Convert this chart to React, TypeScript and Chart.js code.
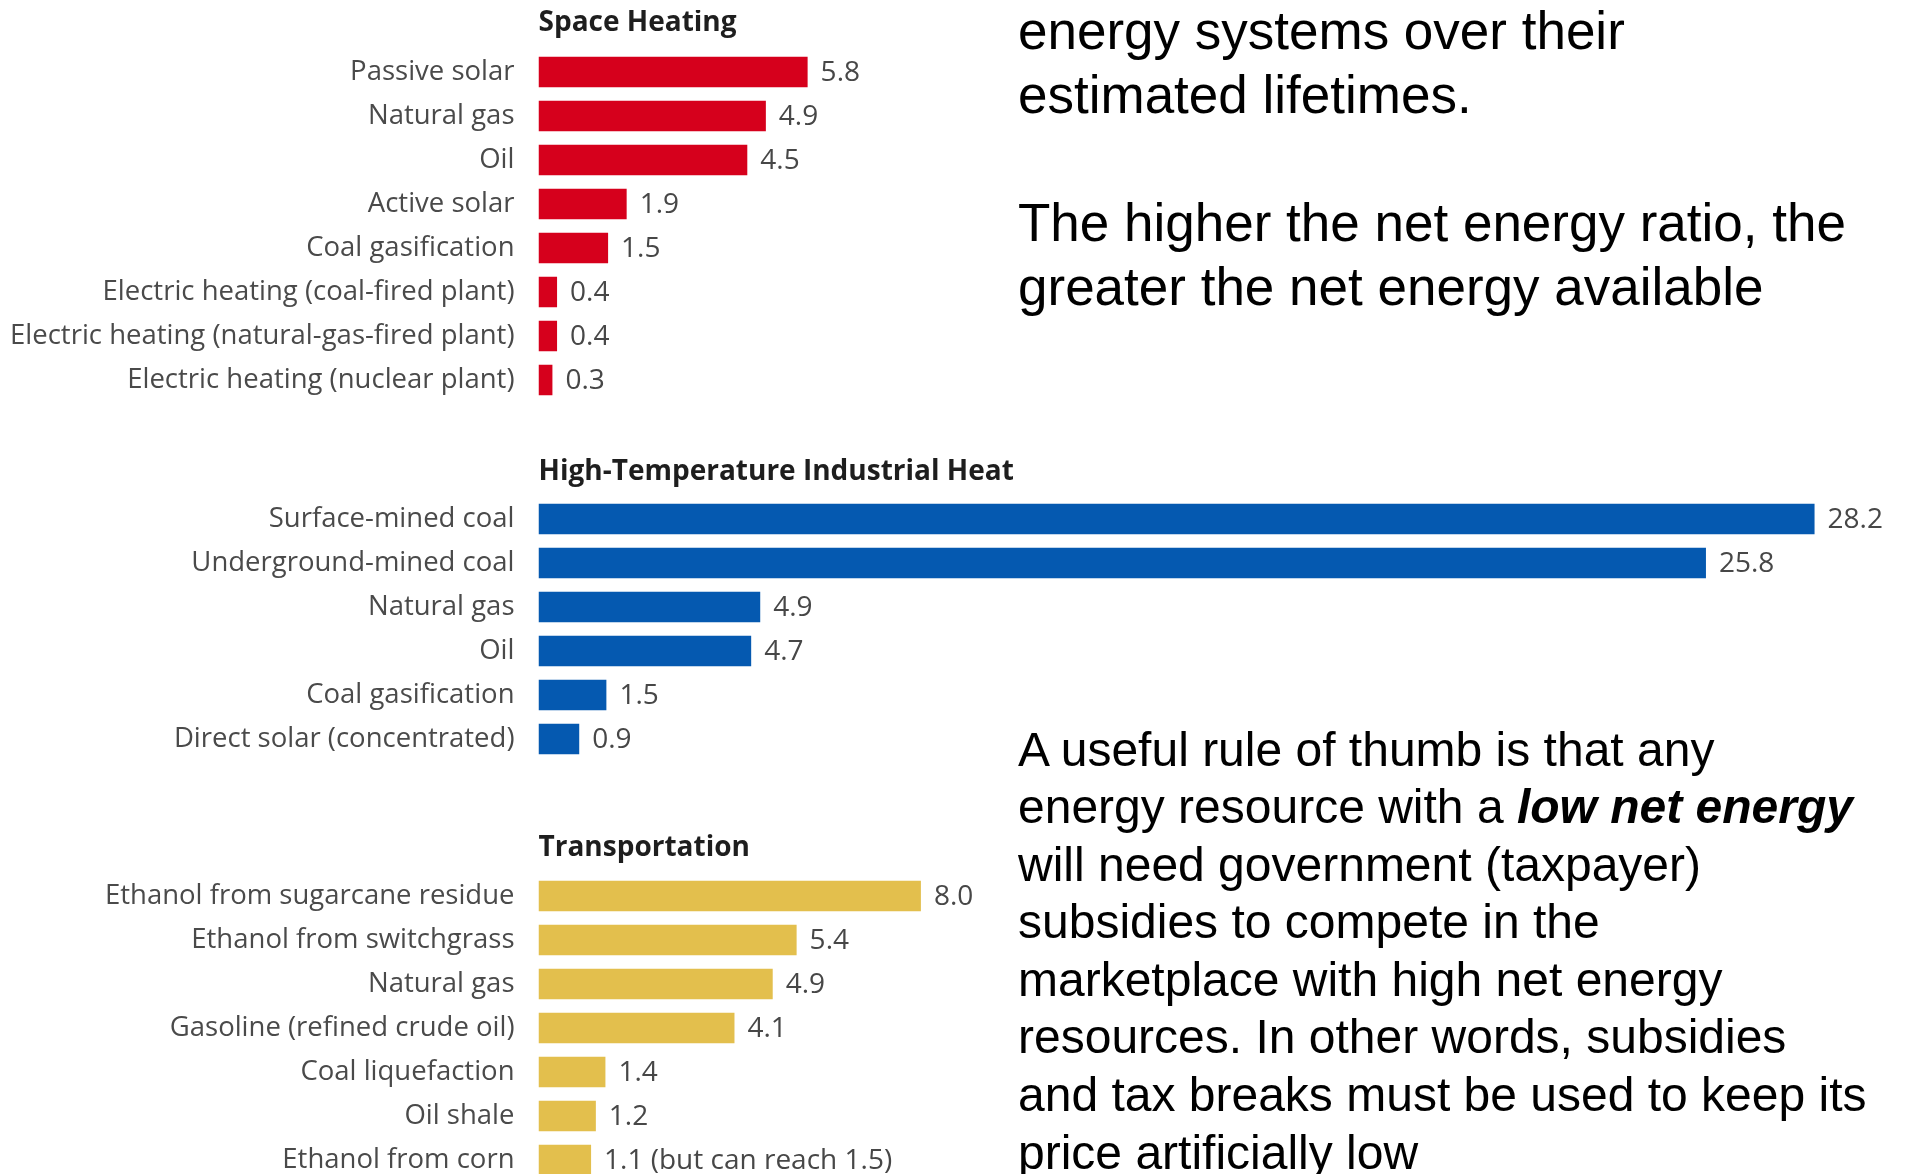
import React, { useEffect, useRef } from 'react';
import { Chart, registerables } from 'chart.js';

Chart.register(...registerables);

// ---------- data ----------
const spaceHeatingLabels = [
  'Passive solar',
  'Natural gas',
  'Oil',
  'Active solar',
  'Coal gasification',
  'Electric heating (coal-fired plant)',
  'Electric heating (natural-gas-fired plant)',
  'Electric heating (nuclear plant)',
];
const spaceHeatingValues = [5.8, 4.9, 4.5, 1.9, 1.5, 0.4, 0.4, 0.3];

const industrialHeatLabels = [
  'Surface-mined coal',
  'Underground-mined coal',
  'Natural gas',
  'Oil',
  'Coal gasification',
  'Direct solar (concentrated)',
];
const industrialHeatValues = [28.2, 25.8, 4.9, 4.7, 1.5, 0.9];

const transportationLabels = [
  'Ethanol from sugarcane residue',
  'Ethanol from switchgrass',
  'Natural gas',
  'Gasoline (refined crude oil)',
  'Coal liquefaction',
  'Oil shale',
  'Ethanol from corn',
];
const transportationValues = [8.0, 5.4, 4.9, 4.1, 1.4, 1.2, 1.1];
const transportationNotes = ['', '', '', '', '', '', '(but can reach 1.5)'];

const panelTitles = ['Space Heating', 'High-Temperature Industrial Heat', 'Transportation'];

const introLines = [
  'energy systems over their',
  'estimated lifetimes.',
  '',
  'The higher the net energy ratio, the',
  'greater the net energy available',
];

// ---------- layout constants ----------
const PAGE_W = 1914;
const AXIS_W = 538.5;
const ROW_H = 44;
const TITLE_SPACE = 40;
const LABEL_FONT = "'Open Sans', 'Noto Sans', sans-serif";

type PanelProps = {
  title: string;
  labels: string[];
  values: number[];
  notes?: string[];
  color: string;
  chartTop: number;
  pxPerUnit: number;
  titleOffset: number;
};

function Panel({ title, labels, values, notes, color, chartTop, pxPerUnit, titleOffset }: PanelProps) {
  const ref = useRef<HTMLCanvasElement | null>(null);
  const height = TITLE_SPACE + labels.length * ROW_H;

  useEffect(() => {
    if (!ref.current) return;
    const xMax = (PAGE_W - AXIS_W) / pxPerUnit;
    const overlay = {
      id: 'panelOverlay',
      afterDatasetsDraw(chart: any) {
        const ctx = chart.ctx;
        ctx.save();
        // title
        ctx.fillStyle = '#1e1e1e';
        ctx.font = `bold 28px ${LABEL_FONT}`;
        ctx.textAlign = 'left';
        ctx.textBaseline = 'middle';
        ctx.fillText(title, chart.chartArea.left, chart.chartArea.top - titleOffset);
        // value labels
        ctx.fillStyle = '#474747';
        ctx.font = `28px ${LABEL_FONT}`;
        const meta = chart.getDatasetMeta(0);
        meta.data.forEach((bar: any, i: number) => {
          const note = notes && notes[i] ? ' ' + notes[i] : '';
          ctx.fillText(values[i].toFixed(1) + note, bar.x + 13, bar.y + 1);
        });
        ctx.restore();
      },
    };
    const chart = new Chart(ref.current, {
      type: 'bar',
      data: {
        labels,
        datasets: [
          {
            data: values,
            backgroundColor: color,
            borderWidth: 0,
            barPercentage: 0.69,
            categoryPercentage: 1,
          },
        ],
      },
      options: {
        indexAxis: 'y',
        responsive: false,
        maintainAspectRatio: false,
        animation: false,
        layout: { padding: { top: TITLE_SPACE, left: 0, right: 0, bottom: 0 } },
        plugins: {
          legend: { display: false },
          tooltip: { enabled: false },
          title: { display: false },
        },
        scales: {
          x: { display: false, min: 0, max: xMax },
          y: {
            grid: { display: false, drawTicks: false },
            border: { display: false },
            ticks: {
              autoSkip: false,
              padding: 24,
              color: '#4a4a4a',
              font: { family: LABEL_FONT, size: 27.5 },
            },
            afterFit(scale: any) {
              scale.width = AXIS_W;
              scale.paddingTop = 0;
              scale.paddingBottom = 0;
            },
          },
        },
      },
      plugins: [overlay],
    } as any);
    return () => chart.destroy();
  }, []);

  return (
    <div style={{ position: 'absolute', left: 0, top: chartTop - TITLE_SPACE, width: PAGE_W, height }}>
      <canvas ref={ref} width={PAGE_W} height={height} style={{ display: 'block', width: PAGE_W, height }} />
    </div>
  );
}

export default function App() {
  const textFont = "'Liberation Sans', Arial, Helvetica, sans-serif";
  return (
    <div
      style={{
        position: 'fixed',
        left: 0,
        top: 0,
        width: PAGE_W,
        height: 1174,
        overflow: 'hidden',
        background: '#ffffff',
      }}
    >
      <Panel
        title={panelTitles[0]}
        labels={spaceHeatingLabels}
        values={spaceHeatingValues}
        color="#d6001c"
        chartTop={49.7}
        pxPerUnit={46.4}
        titleOffset={26.5}
      />
      <Panel
        title={panelTitles[1]}
        labels={industrialHeatLabels}
        values={industrialHeatValues}
        color="#0559b0"
        chartTop={496.7}
        pxPerUnit={45.25}
        titleOffset={25}
      />
      <Panel
        title={panelTitles[2]}
        labels={transportationLabels}
        values={transportationValues}
        notes={transportationNotes}
        color="#e3bf4d"
        chartTop={873.7}
        pxPerUnit={47.8}
        titleOffset={26}
      />
      <div
        style={{
          position: 'absolute',
          left: 1018,
          top: -1.5,
          fontFamily: textFont,
          fontSize: 53,
          lineHeight: '64px',
          color: '#000',
          whiteSpace: 'nowrap',
          zIndex: 2,
        }}
      >
        {introLines.map((l, i) => (
          <div key={i} style={{ height: 64 }}>{l}</div>
        ))}
      </div>
      <div
        style={{
          position: 'absolute',
          left: 1018,
          top: 720.75,
          fontFamily: textFont,
          fontSize: 48,
          lineHeight: '57.55px',
          color: '#000',
          whiteSpace: 'nowrap',
          zIndex: 2,
        }}
      >
        <div>A useful rule of thumb is that any</div>
        <div>
          energy resource with a <b><i>low net energy</i></b>
        </div>
        <div>will need government (taxpayer)</div>
        <div>subsidies to compete in the</div>
        <div>marketplace with high net energy</div>
        <div>resources. In other words, subsidies</div>
        <div>and tax breaks must be used to keep its</div>
        <div>price artificially low</div>
      </div>
    </div>
  );
}
